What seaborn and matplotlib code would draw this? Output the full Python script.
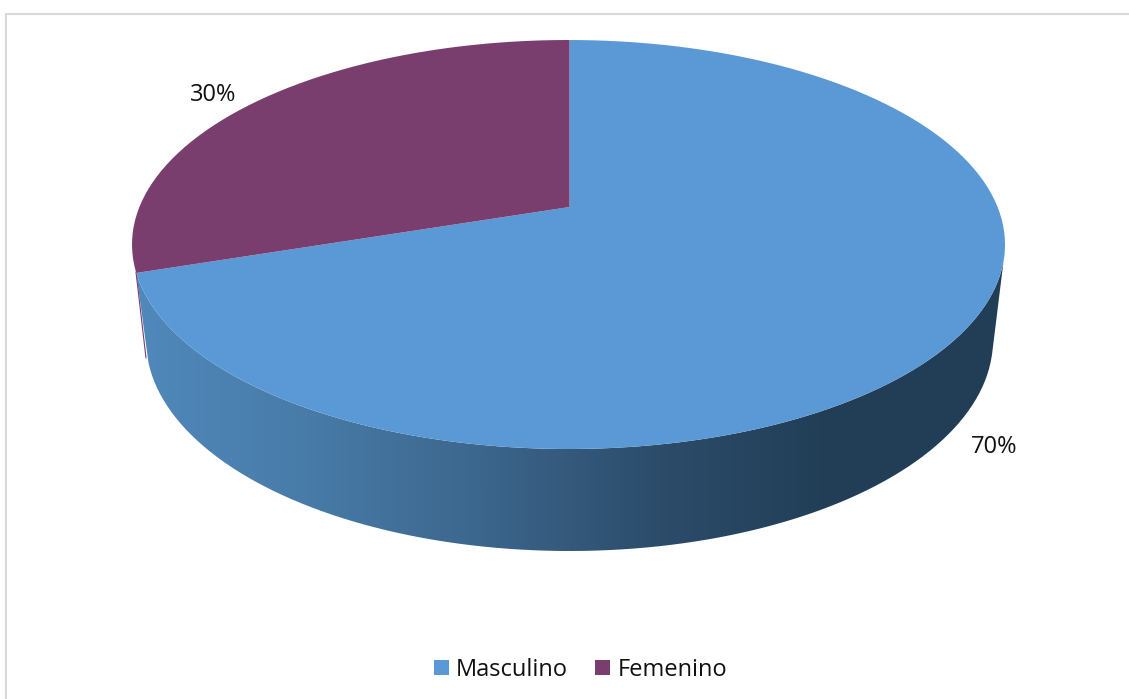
import numpy as np
import seaborn as sns
import matplotlib.pyplot as plt
from matplotlib.patches import Patch, PathPatch
from matplotlib.path import Path

categories = ["Masculino", "Femenino"]
values = [70, 30]
colors = ["#5a99d5", "#793e6e"]
side_colors = ["#5089bc", "#487ba8", "#3c668c", "#2c4c6a", "#223e56", "#223e56"]

W, H = 1129, 699
# top ellipse of the pie, in pixels
cx, cy, rx, ry = 568.5, 244.5, 436.5, 204.5
apex_x, apex_y = 569.5, 207
# bottom edge of the side wall
bx, by, brx, bry = 569.5, 340, 423.5, 211

sns.set_theme(style="white")
plt.rcParams["font.family"] = ["Open Sans", "DejaVu Sans"]

fig = plt.figure(figsize=(W / 100, H / 100), dpi=100)
left, top = 6, 14
ax = fig.add_axes([left / W, 0, (W - left) / W, (H - top) / H])


def to_x(px):
    return (np.asarray(px) - cx) / rx


def to_y(py):
    return (cy - np.asarray(py)) / ry


# side wall, gradient clipped to the outline
t1 = np.linspace(np.radians(-2), np.radians(-172), 200)
t2 = np.linspace(np.radians(-173.7), np.radians(-3.5), 200)
xs = np.r_[np.cos(t1), to_x(bx + brx * np.cos(t2))]
ys = np.r_[np.sin(t1), to_y(by - bry * np.sin(t2))]
outline = PathPatch(Path(np.c_[xs, ys]), transform=ax.transData, fc="none", ec="none")
ax.add_patch(outline)
side_cmap = sns.blend_palette(side_colors, as_cmap=True)
img = ax.imshow(np.linspace(0, 1, 512)[None, :], cmap=side_cmap, aspect="auto",
                extent=[to_x(130), to_x(1010), to_y(560), to_y(240)], zorder=1)
img.set_clip_path(outline)

# thin purple sliver left of the wall
ax.plot(to_x([136, 146]), to_y([272, 358]), color=colors[1], lw=0.8, zorder=1)

# top face: pie around the shifted apex, cut by the ellipse
wedges, _ = ax.pie(values, colors=colors, startangle=90, counterclock=False,
                   center=(to_x(apex_x), to_y(apex_y)), radius=1.5,
                   wedgeprops={"edgecolor": "none", "linewidth": 0})
th = np.linspace(0, 2 * np.pi, 400)
rim = PathPatch(Path(np.c_[np.cos(th), np.sin(th)]), transform=ax.transData, fc="none", ec="none")
ax.add_patch(rim)
for w in wedges:
    w.set_zorder(2)
    w.set_clip_on(True)  # pie switches clipping off
    w.set_clip_path(rim)

ax.set_aspect("auto")
ax.set_xlim(to_x(left), to_x(W))
ax.set_ylim(to_y(H), to_y(top))
ax.set_xticks([])
ax.set_yticks([])
ax.set_frame_on(True)
for name, spine in ax.spines.items():
    spine.set_visible(name in ("top", "left"))
    spine.set_color("#d9d9d9")
    spine.set_linewidth(1.5)

fig.text(213 / W, 1 - 95 / H, f"{values[1]}%", ha="center", va="center", fontsize=17, color="#111111")
fig.text(994 / W, 1 - 447 / H, f"{values[0]}%", ha="center", va="center", fontsize=17, color="#111111")

handles = [Patch(fc=c, ec="none") for c in colors]
fig.legend(handles, categories, loc="center", bbox_to_anchor=(580.5 / W, 1 - 670 / H), ncol=2,
           frameon=False, fontsize=17, labelcolor="#111111", handlelength=0.635, handleheight=0.635,
           handletextpad=0.3, columnspacing=1.15, borderpad=0, borderaxespad=0)

fig.savefig("out.png", dpi=100)
